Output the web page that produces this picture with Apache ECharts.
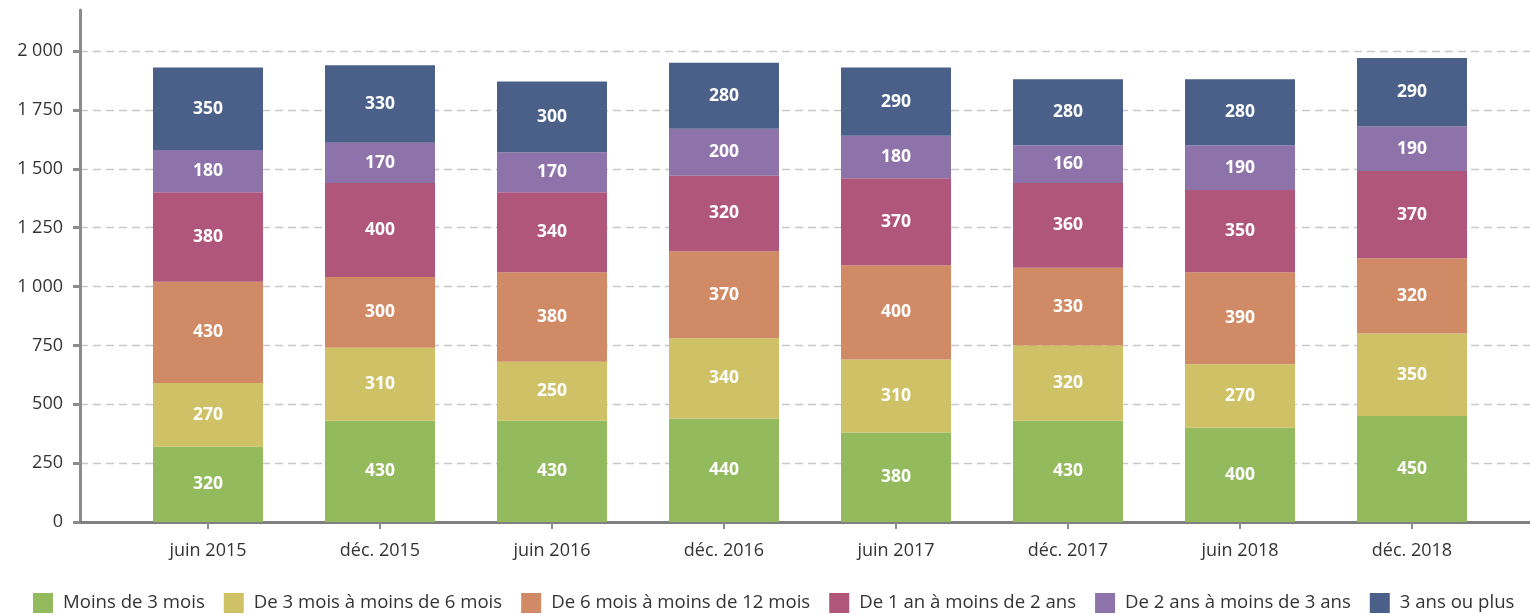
<!DOCTYPE html>
<html>
<head>
<meta charset="utf-8">
<script src="https://cdn.jsdelivr.net/npm/echarts@6/dist/echarts.min.js"></script>
<style>
  html, body { margin: 0; padding: 0; background: #fff; }
  #chart { width: 1530px; height: 614px; }
</style>
</head>
<body>
<div id="chart"></div>
<script>
// Chart data
const categories = ['juin 2015', 'déc. 2015', 'juin 2016', 'déc. 2016', 'juin 2017', 'déc. 2017', 'juin 2018', 'déc. 2018'];
const seriesNames = [
  'Moins de 3 mois',
  'De 3 mois à moins de 6 mois',
  'De 6 mois à moins de 12 mois',
  'De 1 an à moins de 2 ans',
  'De 2 ans à moins de 3 ans',
  '3 ans ou plus'
];
const moins3mois = [320, 430, 430, 440, 380, 430, 400, 450];
const de3a6mois = [270, 310, 250, 340, 310, 320, 270, 350];
const de6a12mois = [430, 300, 380, 370, 400, 330, 390, 320];
const de1a2ans = [380, 400, 340, 320, 370, 360, 350, 370];
const de2a3ans = [180, 170, 170, 200, 180, 160, 190, 190];
const plus3ans = [350, 330, 300, 280, 290, 280, 280, 290];
const yTicks = [0, 250, 500, 750, 1000, 1250, 1500, 1750, 2000];

const seriesData = [moins3mois, de3a6mois, de6a12mois, de1a2ans, de2a3ans, plus3ans];
const colors = ['#93bb5e', '#cfc266', '#d08b66', '#b0567a', '#8d73a9', '#4a6089'];

const font = '"Open Sans", "Noto Sans", sans-serif';
const axisGrey = '#8c8c8c';
const textGrey = '#333333';

const fmt = v => String(v).replace(/\B(?=(\d{3})+(?!\d))/g, ' ');

const chart = echarts.init(document.getElementById('chart'));

chart.setOption({
  backgroundColor: '#ffffff',
  animation: false,
  textStyle: { fontFamily: font },
  legend: {
    left: 28,
    bottom: -4,
    width: 1500,
    itemWidth: 20,
    itemHeight: 20,
    itemGap: 19,
    icon: 'rect',
    data: seriesNames,
    textStyle: { color: textGrey, fontSize: 18.6, fontFamily: font, padding: [0, 0, 0, 5] }
  },
  grid: [
    // axis frame (y line reaching above the top tick)
    { left: 80, right: 0, top: 10, bottom: 92 },
    // value scale, ticks and dashed split lines
    { left: 80, right: 0, top: 51, bottom: 92 },
    // bars
    { left: 122, right: 32, top: 51, bottom: 92 }
  ],
  xAxis: [
    {
      gridIndex: 0, type: 'value', min: 0, max: 1,
      axisLine: { show: true, onZero: false, lineStyle: { color: '#808080', width: 3 } },
      axisTick: { show: false }, axisLabel: { show: false }, splitLine: { show: false }
    },
    {
      gridIndex: 1, type: 'value', min: 0, max: 1, show: false
    },
    {
      gridIndex: 2, type: 'category', data: categories,
      axisLine: { show: false },
      axisTick: { show: true, alignWithLabel: true, length: 7, lineStyle: { color: axisGrey, width: 2 } },
      axisLabel: { color: textGrey, fontSize: 18, margin: 20, fontFamily: font },
      splitLine: { show: false }
    }
  ],
  yAxis: [
    {
      gridIndex: 0, type: 'value', min: 0, max: 2174,
      axisLine: { show: true, lineStyle: { color: axisGrey, width: 3 } },
      axisTick: { show: false }, axisLabel: { show: false }, splitLine: { show: false }
    },
    {
      gridIndex: 1, type: 'value', min: yTicks[0], max: yTicks[yTicks.length - 1], interval: 250,
      axisLine: { show: false },
      axisTick: { show: true, inside: false, length: 7, lineStyle: { color: axisGrey, width: 3 } },
      axisLabel: { color: textGrey, fontSize: 18, margin: 17, formatter: fmt, fontFamily: font },
      splitLine: { show: true, lineStyle: { color: '#c8c8c8', type: [8, 5], width: 1.3 } }
    },
    {
      gridIndex: 2, type: 'value', min: yTicks[0], max: yTicks[yTicks.length - 1], show: false
    }
  ],
  series: seriesNames.map((name, i) => ({
    name,
    type: 'bar',
    stack: 'total',
    xAxisIndex: 2,
    yAxisIndex: 2,
    barWidth: 110,
    data: seriesData[i],
    itemStyle: { color: colors[i] },
    label: {
      show: true,
      position: 'inside',
      color: '#ffffff',
      fontWeight: 'bold',
      fontSize: 17.5,
      fontFamily: font
    }
  }))
});
</script>
</body>
</html>
